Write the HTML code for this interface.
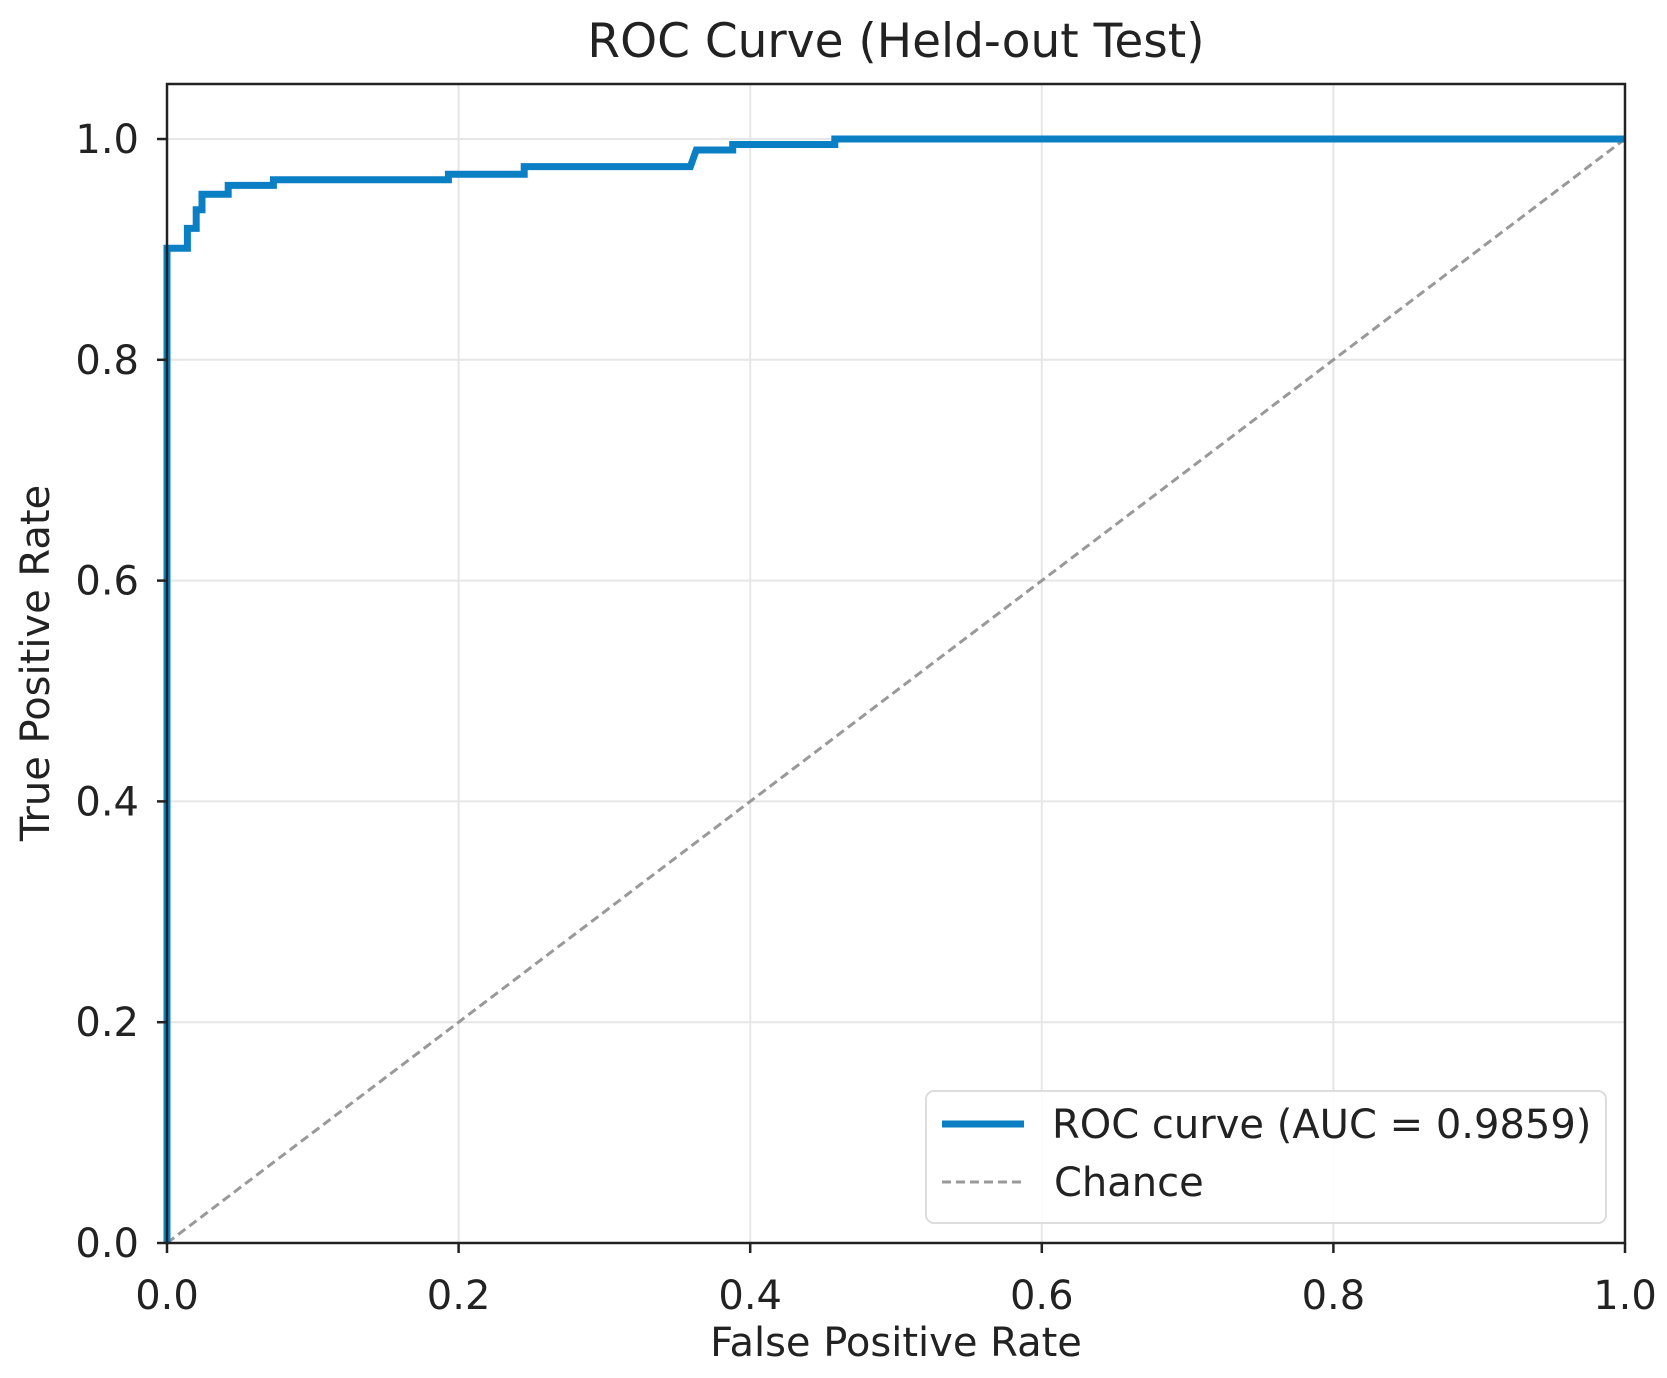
<!DOCTYPE html>
<html><head><meta charset="utf-8"><style>
body{margin:0;background:#fff}
svg{display:block;font-family:"DejaVu Sans","Liberation Sans",sans-serif}
</style></head><body>
<svg width="1667" height="1378" viewBox="0 0 1667 1378">
<g id="grid"></g>
<g id="chance"></g>
<g id="curve"></g>
<rect x="167" y="84" width="1458" height="1159" fill="none" stroke="#222" stroke-width="2.5"/>
<g id="ticks"></g>
<text x="896" y="57" font-size="47" text-anchor="middle" fill="#222">ROC Curve (Held-out Test)</text>
<text x="896" y="1356" font-size="40" text-anchor="middle" fill="#222">False Positive Rate</text>
<text transform="translate(49,663) rotate(-90)" font-size="40" text-anchor="middle" fill="#222">True Positive Rate</text>
<g>
<rect x="926" y="1091" width="680" height="132" rx="8" fill="#fff" fill-opacity="0.85" stroke="#ddd" stroke-width="2"/>
<line x1="942" y1="1124" x2="1024" y2="1124" stroke="#0a7fc4" stroke-width="7"/>
<text x="1052" y="1138" font-size="40" fill="#222">ROC curve (AUC = 0.9859)</text>
<line x1="942" y1="1182" x2="1024" y2="1182" stroke="#999" stroke-width="3" stroke-dasharray="9,5"/>
<text x="1054" y="1196" font-size="40" fill="#222">Chance</text>
</g>
</svg>
<script>
const fprValues=[0,0,0.014,0.014,0.02,0.02,0.024,0.024,0.042,0.042,0.073,0.073,0.193,0.193,0.245,0.245,0.359,0.363,0.388,0.388,0.458,0.458,1.0];
const tprValues=[0,0.901,0.901,0.919,0.919,0.936,0.936,0.950,0.950,0.958,0.958,0.963,0.963,0.968,0.968,0.975,0.975,0.990,0.990,0.995,0.995,1.0,1.0];
const tickValues=[0,0.2,0.4,0.6,0.8,1.0];
const tickLabels=["0.0","0.2","0.4","0.6","0.8","1.0"];
const X0=167,X1=1625,YB=1243,YT=139;
const sx=v=>X0+v*(X1-X0);
const sy=v=>YB-v*(YB-YT);
const NS="http://www.w3.org/2000/svg";
function mk(tag,attrs,parent){const e=document.createElementNS(NS,tag);for(const k in attrs)e.setAttribute(k,attrs[k]);parent.appendChild(e);return e;}
const grid=document.getElementById('grid'),ticks=document.getElementById('ticks');
tickValues.forEach((v,i)=>{
 let g=mk('line',{x1:sx(v),x2:sx(v),y1:84,y2:YB,stroke:'#e6e6e6','stroke-width':2},grid);
 
 
 let h=mk('line',{x1:X0,x2:X1,y1:sy(v),y2:sy(v),stroke:'#e6e6e6','stroke-width':2},grid);
 
 
 let tx=mk('line',{x1:sx(v),x2:sx(v),y1:YB,y2:YB+10,stroke:'#222','stroke-width':2.5},ticks);
 
 
 let ty=mk('line',{x1:X0-10,x2:X0,y1:sy(v),y2:sy(v),stroke:'#222','stroke-width':2.5},ticks);
 
 
 let lx=mk('text',{x:sx(v),y:YB+66,'font-size':40,'text-anchor':'middle',fill:'#222'},ticks);
 lx.textContent=tickLabels[i];
 
 
 let ly=mk('text',{x:X0-28,y:sy(v)+14,'font-size':40,'text-anchor':'end',fill:'#222'},ticks);
 ly.textContent=tickLabels[i];
 
 
});
const ch=mk('line',{x1:sx(0),y1:sy(0),x2:sx(1),y2:sy(1),stroke:'#999','stroke-width':3,'stroke-dasharray':'9,5'},document.getElementById('chance'));


const pts=fprValues.map((f,i)=>sx(f).toFixed(1)+','+sy(tprValues[i]).toFixed(1)).join(' ');
const pl=mk('polyline',{points:pts,fill:'none',stroke:'#0a7fc4','stroke-width':7,'stroke-linejoin':'miter'},document.getElementById('curve'));


</script>
</body></html>
